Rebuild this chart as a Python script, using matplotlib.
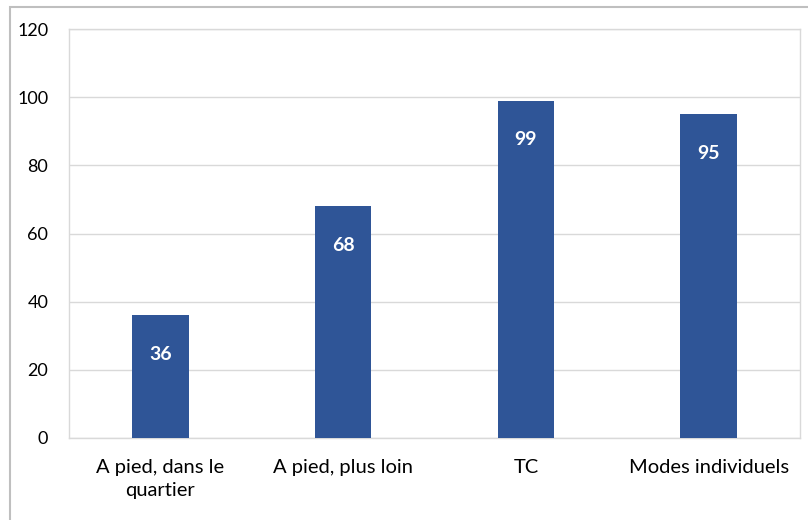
import matplotlib.pyplot as plt
from matplotlib.patches import Rectangle

categories = ['A pied, dans le\nquartier', 'A pied, plus loin', 'TC', 'Modes individuels']
values = [36, 68, 99, 95]

plt.rcParams['font.family'] = ['Lato', 'DejaVu Sans']

fig = plt.figure(figsize=(8.08, 5.2), dpi=100)
ax = fig.add_axes([69 / 808, 82 / 520, 731 / 808, 409 / 520])

# outer chart border
fig.patches.append(Rectangle((10 / 808, -0.05), 1.1, 1 - 7 / 520 + 0.05,
                             transform=fig.transFigure, fill=False,
                             edgecolor='#BFBFBF', linewidth=1.5))

x = range(len(categories))
bars = ax.bar(x, values, width=0.31, color='#2F5597', zorder=3)
for b, v in zip(bars, values):
    ax.text(b.get_x() + b.get_width() / 2, v - 11.5, str(v), ha='center', va='center',
            color='white', fontsize=14, fontweight='bold', zorder=4)

ax.set_xlim(-0.5, len(categories) - 0.5)
ax.set_ylim(0, 120)
ax.set_yticks(range(0, 121, 20))
ax.set_xticks(list(x))
ax.set_xticklabels(categories, fontsize=14.5, linespacing=1.45)
ax.tick_params(axis='y', length=0, pad=15, labelsize=13)
ax.tick_params(axis='x', length=0, pad=15)
ax.grid(axis='y', color='#D9D9D9', linewidth=1, zorder=0)
for s in ax.spines.values():
    s.set_color('#D9D9D9')
    s.set_linewidth(1)

fig.savefig('out.png', dpi=100)
